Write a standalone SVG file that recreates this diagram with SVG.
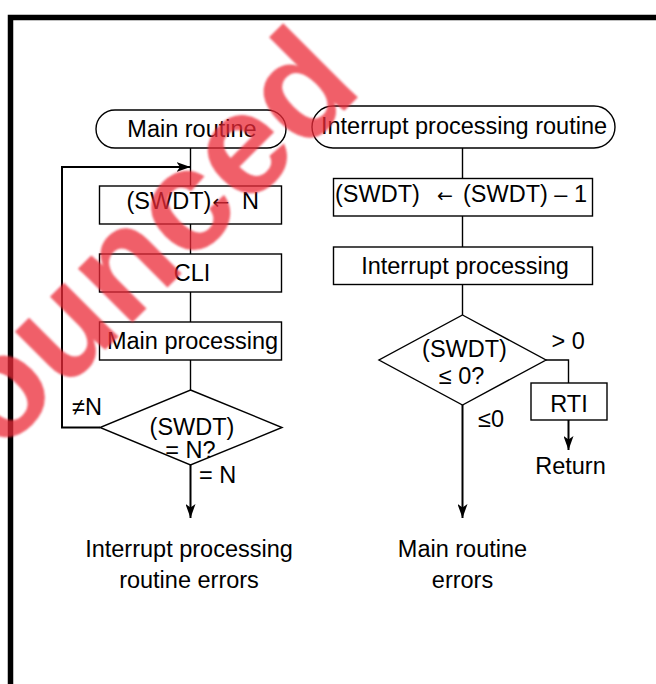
<svg xmlns="http://www.w3.org/2000/svg" width="656" height="684" viewBox="0 0 656 684">
<defs>
<style>
.box{fill:#fff;stroke:#000;stroke-width:1.4}
.ln{fill:none;stroke:#000;stroke-width:1.4}
.lnb{fill:none;stroke:#000;stroke-width:2}
text{font-family:"Liberation Sans",Arial,sans-serif;font-size:23.5px;fill:#000}
.c{text-anchor:middle}
.arr{font-family:"DejaVu Sans",sans-serif;font-size:20px}
.wm{font-family:"Liberation Sans",Arial,sans-serif;font-weight:bold;font-size:145px;fill:#ec2a38}
</style>
<marker id="ah" viewBox="0 0 14 10" refX="14" refY="5" markerWidth="14" markerHeight="10" markerUnits="userSpaceOnUse" orient="auto">
<path d="M0,0 L14,5 L0,10 L3.5,5 Z" fill="#000"/>
</marker>
<filter id="soft" x="-10%" y="-10%" width="120%" height="120%"><feGaussianBlur stdDeviation="1.3"/></filter>
</defs>
<rect width="656" height="684" fill="#fff"/>
<path d="M10.5,684 V17.5 H660" fill="none" stroke="#000" stroke-width="5.5" stroke-linejoin="miter"/>

<g id="connectors">
<path class="ln" d="M190.5,148 V186"/>
<path class="lnb" d="M100,427.5 H62 V167 H190.5" marker-end="url(#ah)"/>
<path class="ln" d="M190.5,224 V254"/>
<path class="ln" d="M190.5,292 V322"/>
<path class="ln" d="M190.5,360 V390"/>
<path class="lnb" d="M190.5,465 V518" marker-end="url(#ah)"/>
<path class="ln" d="M462.5,148 V178.5"/>
<path class="ln" d="M462.5,216 V247"/>
<path class="ln" d="M462.5,284.5 V315"/>
<path class="lnb" d="M462.5,405 V518" marker-end="url(#ah)"/>
<path class="ln" d="M546,360 H568.5 V383"/>
<path class="lnb" d="M568.5,420 V450" marker-end="url(#ah)"/>
</g>

<g id="main-start">
<rect class="box" x="96" y="110" width="190" height="38" rx="19"/>
<text class="c" x="192" y="137">Main routine</text>
</g>
<g id="set-swdt">
<rect class="box" x="99.5" y="186" width="182" height="38"/>
<text x="126.5" y="209">(SWDT)</text>
<text class="arr" x="212.5" y="208.5">←</text>
<text x="242" y="209">N</text>
</g>
<g id="cli">
<rect class="box" x="99.5" y="254" width="182" height="38"/>
<text class="c" x="192" y="280.5">CLI</text>
</g>
<g id="main-processing">
<rect class="box" x="99.5" y="322" width="182" height="38"/>
<text class="c" x="192.5" y="348.5">Main processing</text>
</g>
<g id="check-main">
<polygon class="box" points="190.5,390 282,427.5 190.5,465 100,427.5"/>
<text class="c" x="192" y="434.5">(SWDT)</text>
<text class="c" x="190.5" y="457.5">= N?</text>
<text x="72" y="415">≠N</text>
<text x="199" y="483">= N</text>
</g>
<g id="main-end">
<text class="c" x="189" y="557">Interrupt processing</text>
<text class="c" x="189" y="588">routine errors</text>
</g>

<g id="int-start">
<rect class="box" x="312" y="106" width="303" height="42" rx="21"/>
<text class="c" x="464" y="134">Interrupt processing routine</text>
</g>
<g id="dec-swdt">
<rect class="box" x="333.5" y="178.5" width="259" height="37.5"/>
<text x="335" y="202">(SWDT)</text>
<text class="arr" x="437" y="201.5" style="font-size:19px">←</text>
<text x="463" y="202">(SWDT) – 1</text>
</g>
<g id="int-processing">
<rect class="box" x="333.5" y="247" width="259" height="37.5"/>
<text class="c" x="465" y="274">Interrupt processing</text>
</g>
<g id="check-int">
<polygon class="box" points="462.5,315 546,360 462.5,405 379,360"/>
<text class="c" x="464.5" y="357">(SWDT)</text>
<text class="c" x="461.5" y="383.5">≤ 0?</text>
<text x="551.5" y="348.5">&gt; 0</text>
<text x="478" y="427">≤0</text>
</g>
<g id="rti">
<rect class="box" x="531" y="383" width="76" height="37"/>
<text class="c" x="569" y="411.5">RTI</text>
</g>
<g id="return">
<text class="c" x="570.5" y="473.5">Return</text>
</g>
<g id="int-end">
<text class="c" x="462.5" y="557">Main routine</text>
<text class="c" x="462.5" y="588">errors</text>
</g>

<g id="watermark" opacity="0.75" filter="url(#soft)">
<text class="wm" transform="translate(0,455) rotate(-45)">ounced</text>
</g>
</svg>
